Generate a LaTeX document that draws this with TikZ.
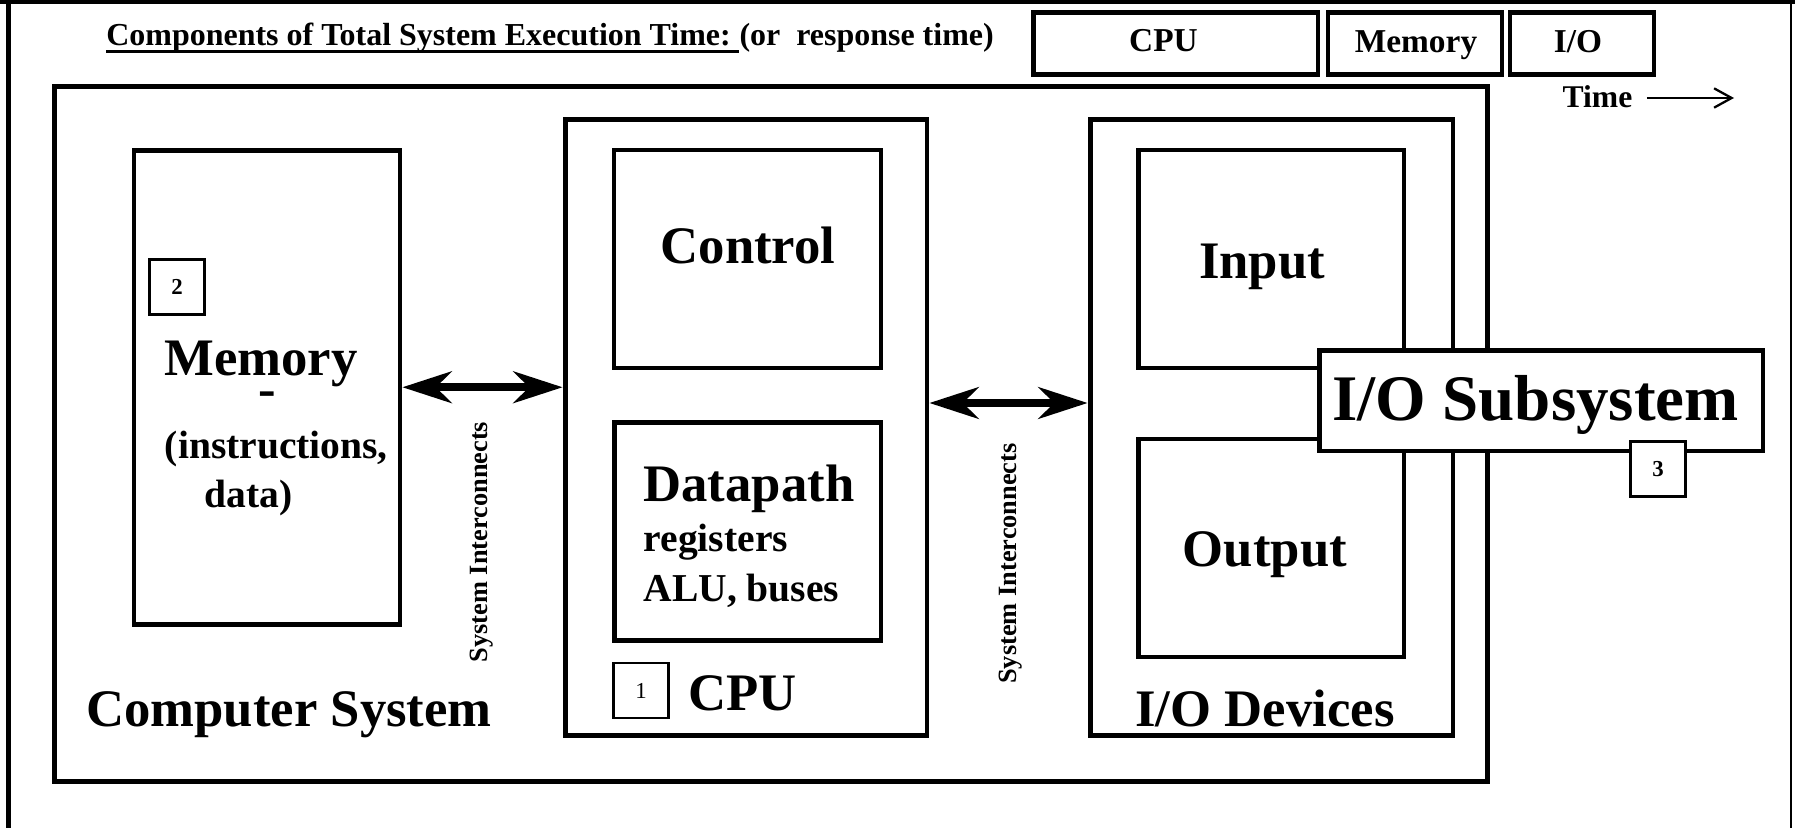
\documentclass[tikz,border=0pt]{standalone}
\usepackage{fontspec}
\setmainfont{Liberation Serif}
\usetikzlibrary{arrows.meta}

\tikzset{
    box/.style={draw, line width=2.8pt, inner sep=0pt},
    numbox/.style={draw, line width=1.4pt, fill=white, minimum size=1.1cm, inner sep=0pt, font=\fontsize{13}{15}\selectfont\bfseries},
    bigtext/.style={inner sep=0pt, anchor=base, font=\fontsize{30}{36}\selectfont\bfseries},
    midtext/.style={inner sep=0pt, anchor=base west, font=\fontsize{22.5}{27}\selectfont\bfseries},
    toptext/.style={inner sep=0pt, anchor=base, font=\fontsize{19}{23}\selectfont\bfseries},
    sitext/.style={inner sep=0pt, anchor=base, rotate=90, font=\fontsize{15}{18}\selectfont\bfseries},
    bigarrow/.style={line width=4.3pt, {Stealth[length=28pt,width=18pt,inset=9pt]}-{Stealth[length=28pt,width=18pt,inset=9pt]}},
    timearrow/.style={line width=1.3pt, -{Straight Barb[length=10pt,width=11pt]}},
    frameline/.style={line width=2.8pt},
}

\begin{document}
\begin{tikzpicture}[x=0.02cm, y=-0.02cm]
    \useasboundingbox (0,0) rectangle (1795,828);

    % frame
    \draw[frameline] (0,2) -- (1795,2);
    \draw[frameline] (8.5,0) -- (8.5,828);
    \draw[line width=1.6pt] (1791,0) -- (1791,828);

    % title and time bar
    \node[inner sep=0pt, anchor=base west, font=\fontsize{18.2}{22}\selectfont\bfseries] (title) at (106,46) {Components of Total System Execution Time:\ \null};
    \node[inner sep=0pt, anchor=base west, font=\fontsize{18.2}{22}\selectfont\bfseries] (resp) at (title.base east) {(or\ \ response time)};
    \draw[line width=1.7pt] ([yshift=-3.3pt]title.base west) -- ([yshift=-3.3pt]title.base east);

    \node[box, minimum width=5.69cm, minimum height=1.24cm] (tcpu) at (1175.75,43.5) {};
    \node[box, minimum width=3.48cm, minimum height=1.24cm] (tmem) at (1415,43.5) {};
    \node[box, minimum width=2.88cm, minimum height=1.24cm] (tio) at (1582,43.5) {};
    \node[toptext] (tcputxt) at (1163.5,52) {CPU};
    \node[toptext] (tmemtxt) at (1416,52.5) {Memory};
    \node[toptext] (tiotxt) at (1578,53) {I/O};

    \node[inner sep=0pt, anchor=base, font=\fontsize{18}{22}\selectfont\bfseries] (timelbl) at (1597.5,108) {Time};
    \coordinate (timeend) at (1734,98);
    \draw[timearrow] ([xshift=8pt]timelbl.east |- timeend) -- (timeend);

    % computer system
    \node[box, minimum width=28.66cm, minimum height=13.91cm] (compsys) at (771,434.25) {};
    \node[bigtext] (compsystxt) at (289,726.7) {Computer System};

    % memory
    \node[box, minimum width=5.32cm, minimum height=9.49cm] (mem) at (267,387.25) {};
    \node[numbox] (num2) at (177,287) {2};
    \node[bigtext] (memtxt) at (261,375) {Memory};
    \node[bigtext] (memdash) at (267.5,406) {-};
    \node[midtext] (instxt) at (164.6,458) {(instructions,};
    \node[midtext] (datatxt) at (204,507) {data)};

    % cpu
    \node[box, minimum width=7.24cm, minimum height=12.33cm] (cpu) at (746,427.75) {};
    \node[box, minimum width=5.34cm, minimum height=4.36cm] (ctrl) at (747.5,259) {};
    \node[bigtext] (ctrltxt) at (748,263) {Control};
    \node[box, minimum width=5.33cm, minimum height=4.36cm] (dpath) at (747.75,531.5) {};
    \node[bigtext] (dptxt) at (749,501.7) {Datapath};
    \node[midtext] (regtxt) at (643.4,551.7) {registers};
    \node[midtext] (alutxt) at (643.4,601.7) {ALU, buses};
    \node[numbox, font=\fontsize{13}{15}\selectfont] (num1) at (641,690.5) {1};
    \node[bigtext] (cputxt) at (742.6,710) {CPU};

    % i/o devices
    \node[box, minimum width=7.26cm, minimum height=12.33cm] (iodev) at (1271.5,427.75) {};
    \node[box, minimum width=5.32cm, minimum height=4.36cm] (input) at (1271,259) {};
    \node[bigtext] (inputtxt) at (1262,278) {Input};
    \node[box, minimum width=5.32cm, minimum height=4.36cm] (output) at (1271,548) {};
    \node[bigtext] (outputtxt) at (1265,566) {Output};
    \node[bigtext] (iodevtxt) at (1265,726.7) {I/O Devices};

    \node[box, fill=white, minimum width=8.88cm, minimum height=2.01cm] (iosub) at (1541,400.75) {};
    \node[inner sep=0pt, anchor=base, font=\fontsize{37}{44}\selectfont\bfseries] (iosubtxt) at (1535.6,420) {I/O Subsystem};
    \node[numbox] (num3) at (1658,469) {3};

    % interconnects
    \coordinate (lvl2) at (0,403);
    \draw[bigarrow] (mem.east) -- (mem.east -| cpu.west);
    \draw[bigarrow] (cpu.east |- lvl2) -- (iodev.west |- lvl2);
    \node[sitext] (si1) at (487,542) {System Interconnects};
    \node[sitext] (si2) at (1016,563.5) {System Interconnects};
\end{tikzpicture}
\end{document}
